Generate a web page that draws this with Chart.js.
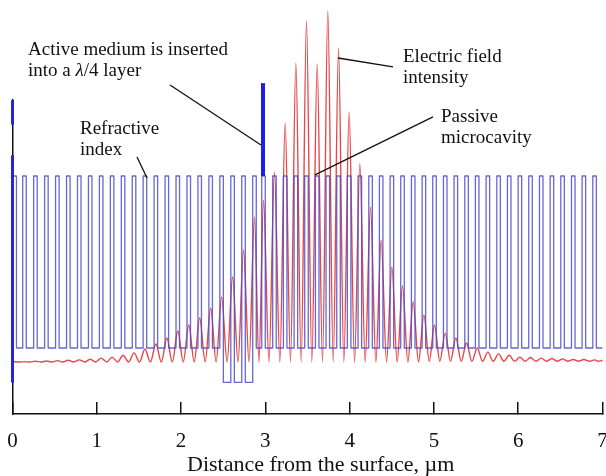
<!DOCTYPE html>
<html><head><meta charset="utf-8">
<script src="https://cdn.jsdelivr.net/npm/chart.js@4.4.1/dist/chart.umd.min.js"></script>
<style>html,body{margin:0;padding:0;background:#fff;}#c{display:block;}</style>
</head><body>
<canvas id="c" width="606" height="476"></canvas>
<script>
// ---- refractive index profile (µm) ----
const nHigh = 3.5;
const highStart = [0.000,0.121,0.251,0.381,0.511,0.641,0.771,0.901,1.031,1.161,1.291,1.421,1.550,1.680,1.810,1.940,2.070,2.200,2.330,2.460,2.590,2.720,2.850,2.957,3.087,3.214,3.341,3.467,3.594,3.720,3.847,3.973,4.100,4.227,4.353,4.480,4.606,4.733,4.860,4.986,5.113,5.239,5.366,5.492,5.619,5.746,5.872,5.999,6.125,6.252,6.379,6.505,6.632,6.758,6.885];
const highEnd   = [0.047,0.163,0.293,0.423,0.553,0.683,0.813,0.943,1.073,1.203,1.333,1.463,1.592,1.722,1.852,1.982,2.112,2.242,2.372,2.502,2.632,2.762,2.892,2.999,3.129,3.256,3.383,3.509,3.636,3.762,3.889,4.015,4.142,4.269,4.395,4.522,4.648,4.775,4.902,5.028,5.155,5.281,5.408,5.534,5.661,5.788,5.914,6.041,6.167,6.294,6.421,6.547,6.674,6.800,6.927];
// index of the low layer following each high layer
const lowN = [3.0,3.0,3.0,3.0,3.0,3.0,3.0,3.0,3.0,3.0,3.0,3.0,3.0,3.0,3.0,3.0,3.0,3.0,3.0,2.9,2.9,2.9,3.0,3.0,3.0,3.0,3.0,3.0,3.0,3.0,3.0,3.0,3.0,3.0,3.0,3.0,3.0,3.0,3.0,3.0,3.0,3.0,3.0,3.0,3.0,3.0,3.0,3.0,3.0,3.0,3.0,3.0,3.0,3.0,3.0];
// surface marker segments and active medium marker
const surfaceX = [0, 0, 0, 0, 0];
const surfaceN = [2.90, 3.56, null, 3.65, 3.72];
const activeX = [2.972, 2.972];
const activeN = [3.50, 3.77];

// ---- electric field intensity (normalised) ----
const peakX = [0.000,0.142,0.272,0.402,0.532,0.662,0.792,0.922,1.052,1.182,1.312,1.442,1.571,1.701,1.831,1.961,2.091,2.221,2.351,2.481,2.611,2.741,2.871,2.978,3.108,3.235,3.362,3.488,3.615,3.741,3.868,3.994,4.121,4.248,4.374,4.501,4.627,4.754,4.881,5.007,5.134,5.260,5.387,5.514,5.640,5.767,5.893,6.020,6.146,6.273,6.400,6.526,6.653,6.779,6.906,7.000];
const peakI = [0.001,0.001,0.002,0.003,0.004,0.005,0.006,0.008,0.011,0.014,0.019,0.026,0.037,0.051,0.068,0.088,0.105,0.125,0.153,0.185,0.242,0.318,0.412,0.460,0.540,0.679,0.849,0.969,0.847,0.997,0.892,0.710,0.563,0.440,0.347,0.270,0.216,0.171,0.134,0.105,0.082,0.068,0.054,0.040,0.028,0.023,0.019,0.014,0.013,0.011,0.010,0.009,0.007,0.007,0.006,0.005];
const troughX = [0.071,0.207,0.337,0.467,0.597,0.727,0.857,0.987,1.117,1.247,1.377,1.507,1.636,1.766,1.896,2.026,2.156,2.286,2.416,2.546,2.676,2.806,2.924,3.043,3.172,3.298,3.425,3.551,3.678,3.805,3.931,4.058,4.184,4.311,4.438,4.564,4.691,4.817,4.944,5.070,5.197,5.324,5.450,5.577,5.703,5.830,5.957,6.083,6.210,6.336,6.463,6.590,6.716,6.843,6.953];
const troughI = [0,0,0,0,0,0,0,0,0,0,0,0,0,0,0,0,0,0,0,0,0,0,0,0,0,0,0,0,0,0,0,0,0,0,0,0,0,0,0.002,0.002,0.002,0.002,0.002,0.002,0.002,0.002,0.002,0.002,0.002,0.002,0.002,0.002,0.002,0.002,0.002];

// ---- axis ----
const xTitle = '\u2003\u2009Distance from the surface, µm';

// ---- annotations (data coordinates: µm, refractive-index axis) ----
const noteLines = [["Active medium is inserted","into a λ/4 layer"],["Refractive","index"],["Electric field","intensity"],["Passive","microcavity"]];
const noteX = [0.184, 0.801, 4.633, 5.084];
const noteN = [3.866, 3.636, 3.846, 3.671];
const leaderFrom = [[1.869,3.7645],[1.477,3.555],[3.862,3.843],[3.589,3.503]];
const leaderTo   = [[2.948,3.590],[1.596,3.494],[4.514,3.817],[4.989,3.672]];

// build tables
const blueData = [];
for (let i = 0; i < highStart.length; i++) {
  if (i === 0) blueData.push({x: highStart[0], y: nHigh});
  else { blueData.push({x: highStart[i], y: lowN[i-1]}); blueData.push({x: highStart[i], y: nHigh}); }
  blueData.push({x: highEnd[i], y: nHigh});
  blueData.push({x: highEnd[i], y: lowN[i]});
}
blueData.push({x: 7, y: lowN[lowN.length-1]});

const redData = [];
peakX.forEach((x,i)=>redData.push({x, y: peakI[i]}));
troughX.forEach((x,i)=>redData.push({x, y: troughI[i]}));
redData.sort((a,b)=>a.x-b.x);

const surfaceData = surfaceX.map((x,i)=>({x, y: surfaceN[i]}));
const activeData = activeX.map((x,i)=>({x, y: activeN[i]}));

const SERIF = "'Liberation Serif', 'DejaVu Serif', serif";

const notePlugin = {
  id: 'notes',
  afterDraw(chart) {
    const {ctx, scales: {x, y}} = chart;
    ctx.save();
    ctx.strokeStyle = '#111'; ctx.lineWidth = 1.3;
    for (let i = 0; i < leaderFrom.length; i++) {
      ctx.beginPath();
      ctx.moveTo(x.getPixelForValue(leaderFrom[i][0]), y.getPixelForValue(leaderFrom[i][1]));
      ctx.lineTo(x.getPixelForValue(leaderTo[i][0]), y.getPixelForValue(leaderTo[i][1]));
      ctx.stroke();
    }
    ctx.fillStyle = '#111'; ctx.textBaseline = 'middle'; ctx.textAlign = 'left';
    const font = '19px ' + SERIF, ifont = 'italic 19px ' + SERIF;
    for (let i = 0; i < noteLines.length; i++) {
      const px = x.getPixelForValue(noteX[i]);
      let py = y.getPixelForValue(noteN[i]);
      noteLines[i].forEach(line => {
        const parts = line.split('λ');
        let cx = px;
        parts.forEach((p, j) => {
          ctx.font = font; ctx.fillText(p, cx, py); cx += ctx.measureText(p).width;
          if (j < parts.length - 1) { ctx.font = ifont; ctx.fillText('λ', cx, py); cx += ctx.measureText('λ').width; }
        });
        py += 21;
      });
    }
    ctx.restore();
  }
};

new Chart(document.getElementById('c'), {
  type: 'line',
  data: { datasets: [
    { label: 'Electric field intensity', data: redData, yAxisID: 'yI', borderColor: 'rgba(226,45,45,0.88)', borderWidth: 1.4, pointRadius: 0, cubicInterpolationMode: 'monotone', clip: false, order: 4 },
    { label: 'Refractive index', data: blueData, yAxisID: 'y', borderColor: 'rgba(75,75,205,0.85)', borderWidth: 1.3, pointRadius: 0, tension: 0, borderJoinStyle: 'round', order: 3 },
    { label: 'Surface', data: surfaceData, yAxisID: 'y', borderColor: 'rgb(36,36,225)', borderWidth: 3, pointRadius: 0, spanGaps: false, clip: false, order: 2 },
    { label: 'Active medium', data: activeData, yAxisID: 'y', borderColor: 'rgb(30,30,235)', borderWidth: 4, pointRadius: 0, clip: false, order: 1 }
  ]},
  options: {
    responsive: false, animation: false, devicePixelRatio: 1,
    layout: { padding: { left: 12.5, right: 3.5, top: 100, bottom: 0 } },
    plugins: { legend: { display: false }, tooltip: { enabled: false } },
    scales: {
      x: { type: 'linear', position: 'bottom', min: 0, max: 7,
        ticks: { stepSize: 1, padding: 27, color: '#111', font: { family: SERIF, size: 21 } },
        grid: { display: true, drawOnChartArea: false, drawTicks: true, tickLength: -12, color: '#111', lineWidth: 1.5 },
        border: { display: true, color: '#111', width: 1.5 },
        title: { display: true, text: xTitle, color: '#111', font: { family: SERIF, size: 22, lineHeight: 1 }, padding: 0 },
        afterFit(scale) { scale.paddingLeft = 0; scale.paddingRight = 0; scale.height = 62; }
      },
      y: { type: 'linear', position: 'left', min: 2.8081, max: 3.7209,
        ticks: { display: false }, grid: { display: false, drawTicks: false },
        border: { display: true, color: '#111', width: 1.5 } },
      yI: { type: 'linear', position: 'left', min: -0.1477, max: 0.7443, display: false }
    }
  },
  plugins: [notePlugin]
});
</script>
</body></html>
